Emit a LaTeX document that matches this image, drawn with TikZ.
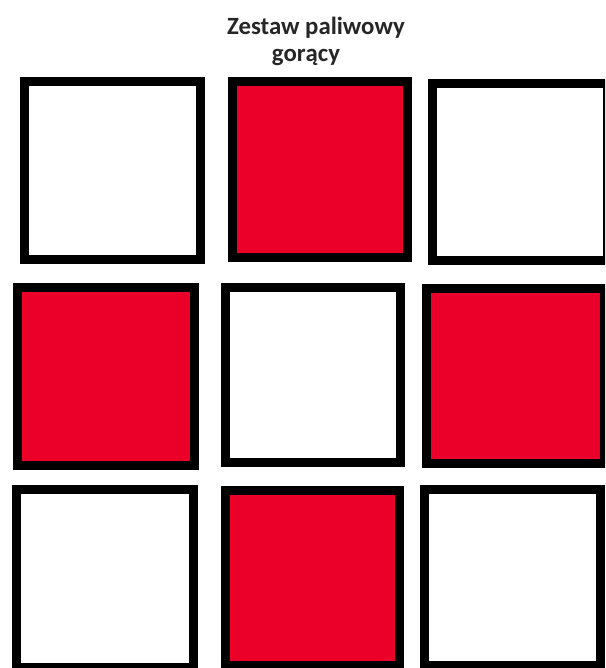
\documentclass[tikz,border=0pt]{standalone}
\usepackage{fontspec}
\setmainfont{Carlito}
\definecolor{fuelred}{RGB}{234,0,40}
\tikzset{
  cell/.style={draw=black, line width=9pt, rectangle, inner sep=0pt, outer sep=0pt},
  hot/.style={cell, fill=fuelred},
  cold/.style={cell, fill=white},
  title/.style={font=\bfseries\fontsize{24.8}{29}\selectfont, text=black!85, inner sep=0pt}
}
\begin{document}
\begin{tikzpicture}[x=1pt,y=-1pt]
\useasboundingbox (0,0) rectangle (605,668);
\fill[white] (0,0) rectangle (605,668);
\clip (0,0) rectangle (605,668);
\node[title] (t1) at (316,28) {Zestaw paliwowy};
\node[title] (t2) at (306,57) {gorący};
\node[cold, minimum width=176pt, minimum height=178pt] (A) at (112.5,170.5) {};
\node[hot,  minimum width=175pt, minimum height=176pt] (B) at (320,169.5) {};
\node[cold, minimum width=175pt, minimum height=177pt] (C) at (520,172) {};
\node[hot,  minimum width=177pt, minimum height=178pt] (D) at (106,376.5) {};
\node[cold, minimum width=175pt, minimum height=175pt] (E) at (313,375) {};
\node[hot,  minimum width=178pt, minimum height=175pt] (F) at (515.5,376) {};
\node[cold, minimum width=177pt, minimum height=178pt] (G) at (105,578.5) {};
\node[hot,  minimum width=174pt, minimum height=175pt] (H) at (312.5,578) {};
\node[cold, minimum width=176pt, minimum height=176pt] (I) at (512.5,577.5) {};
\end{tikzpicture}
\end{document}
